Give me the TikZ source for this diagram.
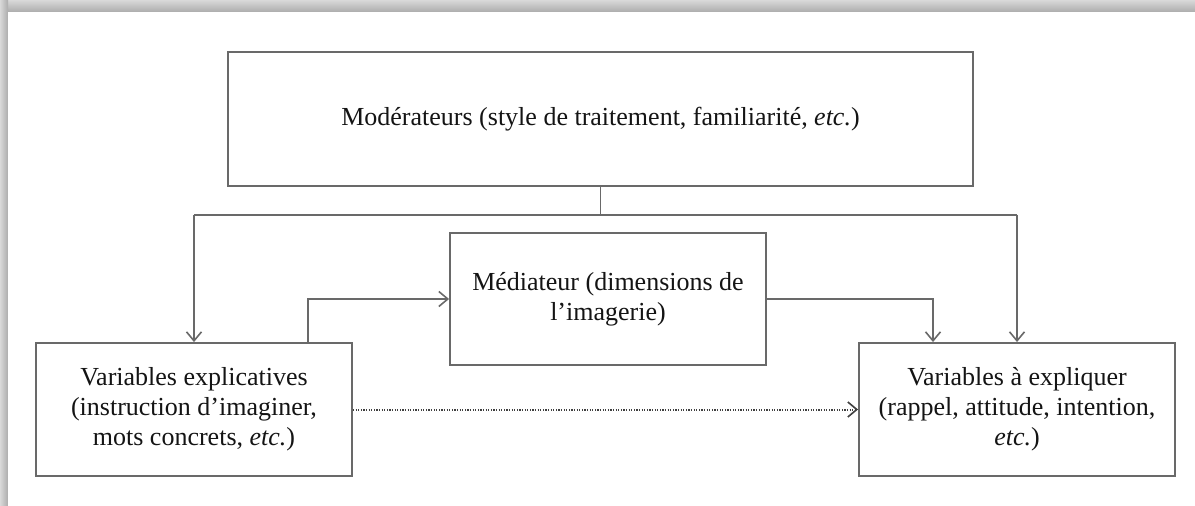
\documentclass[tikz,border=0pt]{standalone}
\usepackage{fontspec}
\setmainfont{Liberation Serif}
\usetikzlibrary{arrows.meta}
\definecolor{linec}{RGB}{105,105,105}
\definecolor{textc}{RGB}{20,20,20}
\begin{document}
\begin{tikzpicture}[x=1pt,y=-1pt,
  box/.style={draw=linec,line width=1.9pt,rectangle,inner sep=0pt,align=center,text=textc,font=\fontsize{26}{30}\selectfont},
  conn/.style={draw=linec,line width=1.8pt},
  arr/.style={conn,-{Straight Barb[length=9pt,width=15pt,line width=1.6pt]}}]
\useasboundingbox (0,0) rectangle (1195,506);
\fill[white] (0,0) rectangle (1195,506);
\shade[top color=gray!30,bottom color=gray!65] (0,0) rectangle (1195,12);
\shade[left color=gray!30,right color=gray!65] (0,0) rectangle (8,506);
\fill[white] (8,12) rectangle (1195,506);
\node[box,minimum width=745pt,minimum height=134pt] (mod) at (600.5,119) {Modérateurs (style de traitement, familiarité, \textit{etc.})};
\node[box,minimum width=316pt,minimum height=132pt] (med) at (608,299) {Médiateur (dimensions de\\l’imagerie)};
\node[box,minimum width=316pt,minimum height=133pt] (lft) at (194,409.5) {Variables explicatives\\(instruction d’imaginer,\\mots concrets, \textit{etc.})};
\node[box,minimum width=316pt,minimum height=133pt] (rgt) at (1017,409.5) {Variables à expliquer\\(rappel, attitude, intention,\\\textit{etc.})};
\draw[conn] (mod.south) -- ++(0,28) coordinate (j);
\coordinate (jl) at (lft.north |- j);
\coordinate (jr) at (rgt.north |- j);
\draw[conn] (jl) -- (jr);
\draw[arr] (jl) -- (lft.north);
\draw[arr] (jr) -- (rgt.north);
\draw[arr] ([xshift=114pt]lft.north) |- (med.west);
\draw[arr] (med.east) -| ([xshift=-84pt]rgt.north);
\draw[arr,draw=black!75,line width=2pt,dash pattern=on 1.3pt off 1.3pt] (lft.east) -- (rgt.west);
\end{tikzpicture}
\end{document}
